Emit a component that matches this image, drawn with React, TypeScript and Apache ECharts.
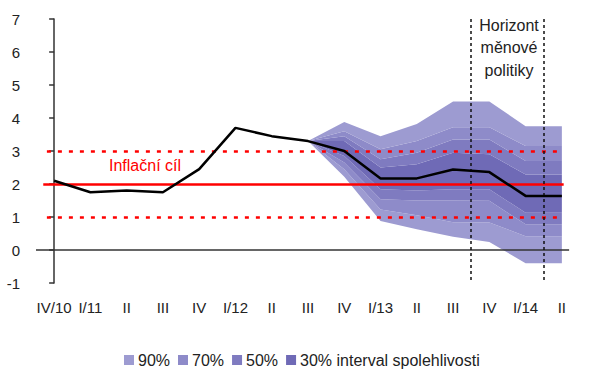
import React, { useEffect, useRef } from "react";
import * as echarts from "echarts";

const categories = ["IV/10", "I/11", "II", "III", "IV", "I/12", "II", "III", "IV", "I/13", "II", "III", "IV", "I/14", "II"];
const inflation = [2.1, 1.75, 1.8, 1.75, 2.45, 3.7, 3.45, 3.3, 3.0, 2.17, 2.17, 2.44, 2.36, 1.64, 1.64];

const pad: (number | null)[] = [null, null, null, null, null, null, null];
const upper90 = [...pad, 3.3, 3.88, 3.45, 3.82, 4.5, 4.5, 3.75, 3.75];
const upper70 = [...pad, 3.3, 3.6, 3.05, 3.3, 3.72, 3.72, 3.15, 3.15];
const upper50 = [...pad, 3.3, 3.45, 2.75, 2.95, 3.35, 3.35, 2.7, 2.7];
const upper30 = [...pad, 3.3, 3.3, 2.5, 2.6, 2.95, 2.9, 2.29, 2.29];
const lower30 = [...pad, 3.3, 2.85, 1.84, 1.8, 1.84, 1.84, 1.13, 1.13];
const lower50 = [...pad, 3.3, 2.65, 1.54, 1.5, 1.5, 1.49, 0.78, 0.78];
const lower70 = [...pad, 3.3, 2.45, 1.23, 1.05, 0.84, 0.83, 0.42, 0.42];
const lower90 = [...pad, 3.3, 2.22, 0.88, 0.63, 0.4, 0.24, -0.4, -0.4];

const targetValue = 2;
const toleranceBand = [1, 3];
const horizonMarks = [11.5, 13.5];

const bandNames = ["90%", "70%", "50%", "30% interval spolehlivosti"];
const bandColors = ["#9d9bd1", "#8e8bc9", "#7f7bc0", "#6f6ab6"];

const FONT = "Liberation Sans, Arial, sans-serif";

function diff(a: (number | null)[], b: (number | null)[]) {
  return a.map((v, i) => (v == null || b[i] == null ? null : +(v - (b[i] as number)).toFixed(3)));
}

export default function App() {
  const ref = useRef<HTMLDivElement>(null);
  useEffect(() => {
    document.body.style.margin = "0";
    const chart = echarts.init(ref.current!, null, { renderer: "svg" });

    const bandSeries = (name: string, data: (number | null)[], color: string | null) => ({
      type: "line",
      name,
      data,
      stack: "fan",
      stackStrategy: "all",
      symbol: "none",
      silent: true,
      color: color || "transparent",
      lineStyle: { width: 0 },
      areaStyle: color ? { color, opacity: 1 } : undefined,
      z: 1,
    });

    const layers = [lower90, lower70, lower50, lower30, upper30, upper50, upper70, upper90];
    const layerBands = [null, 0, 1, 2, 3, 2, 1, 0];

    const fan = layers.map((layer, k) => {
      if (k === 0) return bandSeries("base", layer, null);
      const bi = layerBands[k] as number;
      return bandSeries(bandNames[bi], diff(layer, layers[k - 1]), bandColors[bi]);
    });

    chart.setOption({
      animation: false,
      textStyle: { fontFamily: FONT },
      grid: { left: 36, right: 20, top: 19, bottom: 87 },
      legend: {
        data: bandNames,
        top: 347,
        left: 119,
        icon: "rect",
        itemWidth: 10,
        itemHeight: 10,
        itemGap: 8,
        textStyle: { fontSize: 16, color: "#222", fontFamily: FONT, padding: [0, 0, 0, -1] },
      },
      xAxis: [
        {
          type: "category",
          data: categories,
          boundaryGap: true,
          axisLine: { show: false, onZero: false },
          axisTick: { show: false },
          axisLabel: { fontSize: 15, color: "#222", margin: 17, interval: 0, fontFamily: FONT },
        },
        { type: "value", min: -0.5, max: 14.5, show: false },
      ],
      yAxis: {
        type: "value",
        min: -1,
        max: 7,
        interval: 1,
        axisLine: { show: true, lineStyle: { color: "#333", width: 1.5 } },
        axisTick: { show: true, inside: false, length: 5, lineStyle: { color: "#333", width: 1.5 } },
        axisLabel: { fontSize: 15, color: "#222", margin: 16, fontFamily: FONT },
        splitLine: { show: false },
      },
      series: [
        ...fan,
        {
          type: "line",
          name: "helper",
          xAxisIndex: 1,
          data: [],
          silent: true,
          z: 5,
          markLine: {
            silent: true,
            symbol: "none",
            label: { show: false },
            emphasis: { disabled: true },
            data: [
              [
                { coord: [-0.3, targetValue], lineStyle: { color: "#ff0000", width: 2.5, type: "solid" } },
                { coord: [14.05, targetValue] },
              ],
              ...toleranceBand.map((v) => [
                { coord: [-0.2, v], lineStyle: { color: "#ff0000", width: 2.5, type: [4, 7] } },
                { coord: [14.05, v] },
              ]),
              [
                { coord: [-0.5, 0], lineStyle: { color: "#333", width: 1.5, type: "solid" } },
                { coord: [14.2, 0] },
              ],
              ...horizonMarks.map((x) => [
                { coord: [x, 7], lineStyle: { color: "#111", width: 1.5, type: [3, 3] } },
                { coord: [x, -1] },
              ]),
            ],
          },
        },
        {
          type: "line",
          name: "inflace",
          data: inflation,
          symbol: "none",
          color: "#000",
          lineStyle: { color: "#000", width: 2.5 },
          silent: true,
          z: 10,
        },
      ],
      graphic: [
        {
          type: "text",
          left: 109,
          top: 157,
          style: { text: "Inflační cíl", fill: "#ff0000", font: `16px ${FONT}` },
          z: 20,
        },
        {
          type: "text",
          x: 509,
          y: 14,
          style: {
            text: "Horizont\nměnové\npolitiky",
            fill: "#222",
            font: `16px ${FONT}`,
            align: "center",
            lineHeight: 22.5,
          },
          z: 20,
        },
      ],
    });
    return () => chart.dispose();
  }, []);
  return <div ref={ref} style={{ width: 600, height: 370 }} />;
}
